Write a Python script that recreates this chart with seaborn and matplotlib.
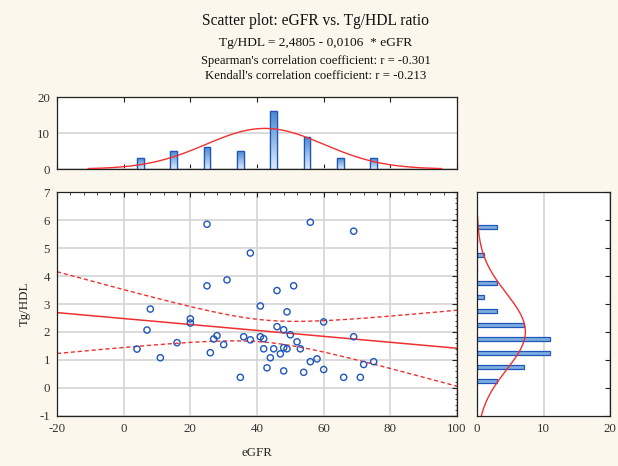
import numpy as np
import pandas as pd
import matplotlib
matplotlib.use("Agg")
import matplotlib.pyplot as plt
import seaborn as sns
from matplotlib.ticker import MultipleLocator
from matplotlib.colors import LinearSegmentedColormap

# ---------------- data ----------------
egfr = [25, 25, 31, 8, 20, 20, 38, 56, 69, 46, 51, 41, 49, 60, 7, 4, 11, 16,
        26, 27, 28, 30, 35, 46, 48, 50, 36, 38, 41, 42, 69, 52, 42, 45, 48,
        49, 53, 47, 44, 58, 56, 75, 72, 43, 48, 54, 60, 66, 71]
tg_hdl = [5.85, 3.65, 3.86, 2.82, 2.47, 2.32, 4.82, 5.92, 5.60, 3.48, 3.65,
          2.93, 2.72, 2.36, 2.07, 1.39, 1.08, 1.62, 1.26, 1.75, 1.87, 1.55,
          0.38, 2.19, 2.08, 1.90, 1.83, 1.72, 1.83, 1.76, 1.83, 1.65, 1.40,
          1.40, 1.44, 1.40, 1.40, 1.22, 1.08, 1.04, 0.94, 0.94, 0.84, 0.72,
          0.61, 0.56, 0.66, 0.38, 0.38]

fit_intercept = 2.4805
fit_slope = -0.0106

top_bin_centers = [5, 15, 25, 35, 45, 55, 65, 75]
top_counts = [3, 5, 6, 5, 16, 9, 3, 3]
right_bin_centers = [0.25, 0.75, 1.25, 1.75, 2.25, 2.75, 3.25, 3.75, 4.75, 5.75]
right_counts = [3, 7, 11, 11, 7, 3, 1, 3, 1, 3]

title_lines = ["Scatter plot: eGFR vs. Tg/HDL ratio",
               "Tg/HDL = 2,4805 - 0,0106  * eGFR",
               "Spearman's correlation coefficient: r = -0.301",
               "Kendall's correlation coefficient: r = -0.213"]
x_label = "eGFR"
y_label = "Tg/HDL"

# ---------------- style ----------------
sns.set_theme(style="white")
BG = "#FBF7EC"
plt.rcParams["font.family"] = ["Liberation Serif", "DejaVu Serif"]
plt.rcParams["axes.unicode_minus"] = False
plt.rcParams["axes.edgecolor"] = "#222222"
plt.rcParams["axes.linewidth"] = 0.9
plt.rcParams["xtick.color"] = "#222222"
plt.rcParams["ytick.color"] = "#222222"
plt.rcParams["xtick.labelcolor"] = "#333333"
plt.rcParams["ytick.labelcolor"] = "#333333"

W, H = 618, 466
fig = plt.figure(figsize=(W / 100, H / 100), dpi=100, facecolor=BG)

def box(l, r, t, b):
    return [l / W, 1 - b / H, (r - l) / W, (b - t) / H]

ax = fig.add_axes(box(57, 457, 192, 416))
axt = fig.add_axes(box(57, 457, 97, 169))
axr = fig.add_axes(box(477, 610, 192, 416))

BLUE = "#1F56B8"
RED = "#F03030"
GRID = "#D4D4D4"
BARFILL = "#8DB9E6"
TICK_FS = 9.3

df = pd.DataFrame({"x": egfr, "y": tg_hdl})
n = len(df)

# ---------------- main scatter ----------------
ax.set_facecolor("white")
ax.grid(True, which="major", color=GRID, lw=1.2)
ax.set_axisbelow(True)

xs = np.linspace(-20, 100, 300)
yfit = fit_intercept + fit_slope * xs
resid = df["y"] - (fit_intercept + fit_slope * df["x"])
s = np.sqrt((resid ** 2).sum() / (n - 2))
xbar = df["x"].mean()
sxx = ((df["x"] - xbar) ** 2).sum()
tval = 2.0106
half = tval * s * np.sqrt(1 / n + (xs - xbar) ** 2 / sxx)

sns.lineplot(x=xs, y=yfit, ax=ax, color=RED, lw=1.1)
sns.lineplot(x=xs, y=yfit + half, ax=ax, color=RED, lw=1.0,
             linestyle=(0, (3, 2)))
sns.lineplot(x=xs, y=yfit - half, ax=ax, color=RED, lw=1.0,
             linestyle=(0, (3, 2)))
sns.scatterplot(data=df, x="x", y="y", ax=ax, marker="o", s=20,
                facecolor="none", edgecolor=BLUE, linewidth=1.0, zorder=5)

ax.set_xlim(-20, 100)
ax.set_ylim(-1, 7)
ax.xaxis.set_major_locator(MultipleLocator(20))
ax.xaxis.set_minor_locator(MultipleLocator(4))
ax.yaxis.set_major_locator(MultipleLocator(1))
ax.yaxis.set_minor_locator(MultipleLocator(0.2))
ax.tick_params(which="both", direction="in", top=True, right=True,
               labelsize=TICK_FS, pad=5)
ax.tick_params(which="major", length=3.5, width=0.8)
ax.tick_params(which="minor", length=1.8, width=0.6)
ax.set_xlabel(x_label, fontsize=9.3, labelpad=9)
ax.set_ylabel(y_label, fontsize=9.3, labelpad=6)
for sp in ax.spines.values():
    sp.set_visible(True)

# ---------------- top histogram ----------------
axt.set_facecolor("white")
axt.grid(True, axis="y", color=GRID, lw=1.2)
axt.set_axisbelow(True)
sns.histplot(x=top_bin_centers, weights=top_counts, binwidth=10,
             binrange=(0, 80), shrink=0.2, ax=axt, color=BARFILL,
             edgecolor=BLUE, linewidth=0.9, alpha=1)
grad = LinearSegmentedColormap.from_list("g", ["#DCEBFA", "#4A88D2"])
gimg = np.linspace(0, 1, 64).reshape(-1, 1)
for p in list(axt.patches):
    x0, y0 = p.get_x(), p.get_y()
    w, h = p.get_width(), p.get_height()
    if h <= 0:
        continue
    im = axt.imshow(gimg, cmap=grad, aspect="auto", origin="lower",
                    extent=(x0, x0 + w, y0, y0 + h), zorder=p.get_zorder() + 0.1)
    im.set_clip_path(p)
    edge = plt.Rectangle((x0, y0), w, h, fill=False, edgecolor=BLUE,
                         linewidth=0.9, zorder=p.get_zorder() + 0.2)
    axt.add_patch(edge)

mx, sdx = df["x"].mean(), df["x"].std()
ntot = sum(top_counts)
xc = np.linspace(mx - 3 * sdx, mx + 3 * sdx, 200)
dens_x = ntot * 10 * np.exp(-0.5 * ((xc - mx) / sdx) ** 2) / (sdx * np.sqrt(2 * np.pi))
sns.lineplot(x=xc, y=dens_x, ax=axt, color=RED, lw=1.0, zorder=10)
axt.set_xlim(-20, 100)
axt.set_ylim(0, 20)
axt.xaxis.set_major_locator(MultipleLocator(20))
axt.yaxis.set_major_locator(MultipleLocator(10))
axt.tick_params(which="both", direction="in", top=True, bottom=True,
                labelbottom=False, labelsize=TICK_FS, pad=5)
axt.tick_params(which="major", length=3.5, width=0.8)
axt.set_xlabel("")
axt.set_ylabel("")
for sp in axt.spines.values():
    sp.set_visible(True)

# ---------------- right histogram ----------------
axr.set_facecolor("white")
axr.grid(True, axis="x", color=GRID, lw=1.2)
axr.set_axisbelow(True)
sns.histplot(y=right_bin_centers, weights=right_counts, binwidth=0.5,
             binrange=(0, 6), shrink=0.3, ax=axr, color="#7FAEE2",
             edgecolor=BLUE, linewidth=0.9, alpha=1)
my, sdy = df["y"].mean(), df["y"].std()
ntot_r = sum(right_counts)
yc = np.linspace(my - 3 * sdy, my + 3 * sdy, 200)
dens_y = ntot_r * 0.5 * np.exp(-0.5 * ((yc - my) / sdy) ** 2) / (sdy * np.sqrt(2 * np.pi))
sns.lineplot(x=dens_y, y=yc, ax=axr, color=RED, lw=1.0, sort=False, orient="y")
axr.set_xlim(0, 20)
axr.set_ylim(-1, 7)
axr.xaxis.set_major_locator(MultipleLocator(10))
axr.yaxis.set_major_locator(MultipleLocator(1))
axr.tick_params(which="both", direction="in", left=False, right=True,
                labelleft=False, labelsize=TICK_FS, pad=5)
axr.tick_params(which="major", length=3.5, width=0.8)
axr.set_xlabel("")
axr.set_ylabel("")
for sp in axr.spines.values():
    sp.set_visible(True)

# ---------------- titles ----------------
cx = 316 / W
fig.text(cx, 1 - 21 / H, title_lines[0], ha="center", va="center", fontsize=11.2, color="#111111")
fig.text(cx, 1 - 43 / H, title_lines[1], ha="center", va="center", fontsize=9.6, color="#111111")
fig.text(cx, 1 - 61 / H, title_lines[2], ha="center", va="center", fontsize=9.1, color="#111111")
fig.text(cx, 1 - 76 / H, title_lines[3], ha="center", va="center", fontsize=9.2, color="#111111")

fig.savefig("out.png", dpi=100, facecolor=BG)
